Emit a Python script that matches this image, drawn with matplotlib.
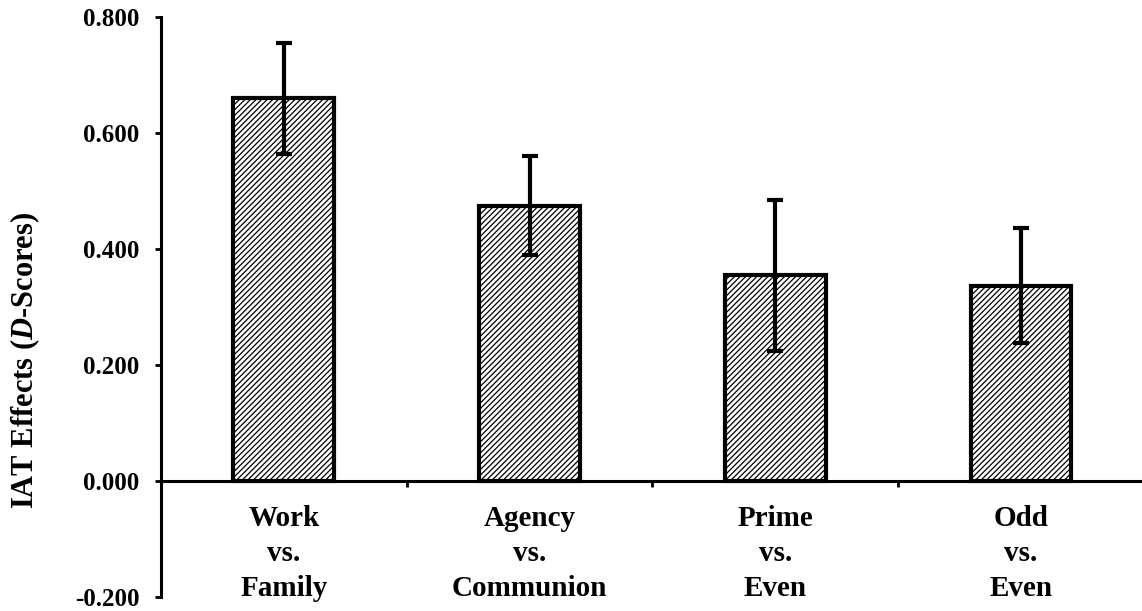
import numpy as np
import matplotlib
matplotlib.use('Agg')
import matplotlib.pyplot as plt
import matplotlib.patheffects as pe

# data
categories = ['Work\nvs.\nFamily', 'Agency\nvs.\nCommunion',
              'Prime\nvs.\nEven', 'Odd\nvs.\nEven']
means = [0.660, 0.475, 0.355, 0.337]
errors = [0.096, 0.086, 0.130, 0.099]
yticks = [-0.2, 0.0, 0.2, 0.4, 0.6, 0.8]
yticklabels = ['-0.200', '0.000', '0.200', '0.400', '0.600', '0.800']

plt.rcParams['font.family'] = 'Liberation Serif'
plt.rcParams['font.weight'] = 'bold'
plt.rcParams['mathtext.fontset'] = 'custom'
plt.rcParams['mathtext.rm'] = 'Liberation Serif:bold'
plt.rcParams['mathtext.it'] = 'Liberation Serif:italic:bold'
plt.rcParams['hatch.linewidth'] = 0.9

W, H = 1142, 611
fig = plt.figure(figsize=(W / 100, H / 100), dpi=100)

# axes placed in pixel terms of the reference
left, right = 161, 161 + 4 * 245.7
top, bottom = 17, 597
ax = fig.add_axes([left / W, (H - bottom) / H,
                   (right - left) / W, (bottom - top) / H])

x = np.arange(len(means))
bars = ax.bar(x, means, width=0.41, color='white', edgecolor='black',
              linewidth=3, hatch='//////', zorder=2)
for b in bars:
    b.set_path_effects([pe.SimplePatchShadow(offset=(1.5, -1.5),
                                             shadow_rgbFace='0.6', alpha=0.35),
                        pe.Normal()])

ax.errorbar(x, means, yerr=errors, fmt='none', ecolor='black',
            elinewidth=3, capsize=6, capthick=3, zorder=3)

ax.set_xlim(-0.5, 3.5)
ax.set_ylim(-0.2, 0.8)

# axis lines
for s in ['top', 'right']:
    ax.spines[s].set_visible(False)
ax.spines['left'].set_linewidth(2.2)
ax.spines['bottom'].set_linewidth(2.2)
ax.spines['bottom'].set_position(('data', 0))

ax.set_yticks(yticks)
ax.set_yticklabels(yticklabels)
ax.tick_params(axis='y', direction='out', length=4.5, width=2,
               pad=11, labelsize=18)

# category boundaries as major ticks, names as minor labels
ax.set_xticks([0.5, 1.5, 2.5])
ax.set_xticklabels([])
ax.tick_params(axis='x', which='major', direction='out', length=4.5, width=2)
ax.set_xticks(x, minor=True)
ax.set_xticklabels(categories, minor=True, fontsize=21, linespacing=1.38)
ax.tick_params(axis='x', which='minor', length=0, pad=17)

fig.text(25 / W, (H - 360) / H, r'IAT Effects ($\mathit{D}$-Scores)',
         rotation=90, ha='center', va='center', fontsize=22, fontweight='bold')

fig.savefig('out.png', dpi=100)
